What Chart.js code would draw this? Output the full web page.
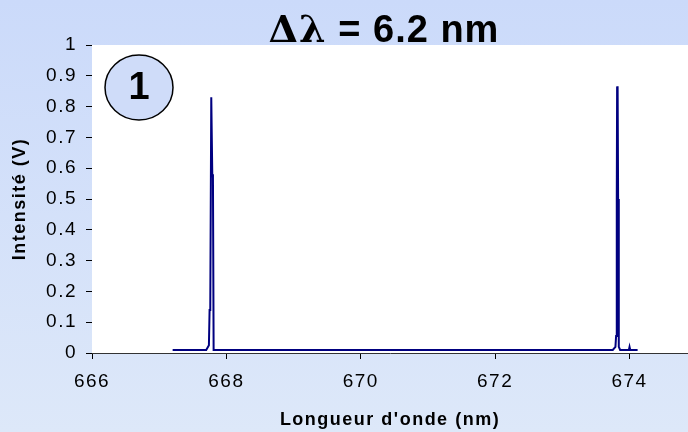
<!DOCTYPE html>
<html>
<head>
<meta charset="utf-8">
<script src="https://cdn.jsdelivr.net/npm/chart.js@4/dist/chart.umd.min.js"></script>
<style>
  html, body { margin: 0; padding: 0; overflow: hidden; }
  body { width: 688px; height: 432px; background: linear-gradient(#cbdafa, #dde8f9); }
  #wrap { position: relative; width: 688px; height: 432px; }
</style>
</head>
<body>
<div id="wrap"><canvas id="spectre" width="688" height="432"></canvas></div>
<script>
// spectre mesuré : longueur d'onde (nm) / intensité (V)
const wavelength = [667.20, 667.45, 667.70, 667.74, 667.75, 667.76, 667.775, 667.785, 667.79, 667.80, 667.81, 668.20, 669.00, 670.00, 671.00, 672.00, 673.00, 673.75, 673.79, 673.80, 673.81, 673.815, 673.82, 673.825, 673.83, 673.84, 673.86, 673.99, 674.00, 674.01, 674.12]
const intensity  = [0.010, 0.010, 0.010, 0.025, 0.140, 0.140, 0.830, 0.830, 0.580, 0.570, 0.010, 0.010, 0.010, 0.010, 0.010, 0.010, 0.010, 0.010, 0.020, 0.055, 0.500, 0.862, 0.866, 0.864, 0.500, 0.020, 0.010, 0.010, 0.020, 0.010, 0.010]

const xMin = 666
const xMax = 674.87
const xStep = 2
const yMin = 0
const yMax = 1
const yStep = 0.1

const titleLeft = 'Δλ'
const titleRight = ' = 6.2 nm'
const panelLabel = '1'

const SANS = "'Liberation Sans', Arial, sans-serif"

let spacing = {
  id: 'spacing',
  beforeUpdate (chart) { chart.ctx.letterSpacing = '1.5px' },
  beforeDraw (chart) { chart.ctx.letterSpacing = '1.5px' }
}

let plotBackground = {
  id: 'plotBackground',
  beforeDatasetsDraw (chart) {
    let { ctx, chartArea } = chart
    ctx.save()
    ctx.fillStyle = '#ffffff'
    ctx.fillRect(chartArea.left, chartArea.top, chartArea.right - chartArea.left, chartArea.bottom - chartArea.top)
    ctx.restore()
  }
}

let decorations = {
  id: 'decorations',
  afterDraw (chart) {
    let ctx = chart.ctx
    ctx.save()

    // titre
    ctx.fillStyle = '#000'
    ctx.textBaseline = 'alphabetic'
    ctx.letterSpacing = '1px'
    let serif = "bold 38px 'DejaVu Serif', serif"
    let sans = 'bold 38px ' + SANS
    ctx.font = serif
    let w1 = ctx.measureText(titleLeft).width
    ctx.font = sans
    let w2 = ctx.measureText(titleRight).width
    let x0 = 384 - (w1 + w2) / 2
    ctx.font = serif
    ctx.fillText(titleLeft, x0, 42)
    ctx.font = sans
    ctx.fillText(titleRight, x0 + w1, 42)

    // pastille
    ctx.beginPath()
    ctx.ellipse(139, 87.5, 34, 32.5, 0, 0, Math.PI * 2)
    ctx.fillStyle = '#cfdcf9'
    ctx.fill()
    ctx.lineWidth = 1.5
    ctx.strokeStyle = '#000'
    ctx.stroke()
    ctx.fillStyle = '#000'
    ctx.font = 'bold 38px ' + SANS
    ctx.textAlign = 'center'
    ctx.textBaseline = 'middle'
    ctx.letterSpacing = '0px'
    ctx.fillText(panelLabel, 139, 89)

    ctx.restore()
  }
}

let chart = new Chart(document.getElementById('spectre'), {
  type: 'scatter',
  data: {
    datasets: [
      {
        data: wavelength.map((x, i) => ({ x: x, y: intensity[i] })),
        showLine: true,
        borderColor: '#000080',
        borderWidth: 2,
        pointRadius: 0,
        tension: 0
      }
    ]
  },
  options: {
    responsive: false,
    animation: false,
    devicePixelRatio: 1,
    layout: { padding: { top: 45, right: 0, left: 0, bottom: 0 } },
    plugins: {
      legend: { display: false },
      tooltip: { enabled: false }
    },
    scales: {
      x: {
        type: 'linear',
        min: xMin,
        max: xMax,
        afterFit (scale) { scale.height = 79 },
        ticks: {
          stepSize: xStep,
          includeBounds: false,
          padding: 11,
          color: '#000',
          font: { family: SANS, size: 19 },
          maxRotation: 0
        },
        grid: { drawOnChartArea: false, drawTicks: true, tickLength: 6, color: '#000' },
        border: { display: true, color: '#333', width: 1 },
        title: {
          display: true,
          text: "Longueur d'onde (nm)",
          color: '#000',
          font: { family: SANS, size: 18, weight: 'bold' },
          padding: { top: 0, bottom: 1 }
        }
      },
      y: {
        min: yMin,
        max: yMax,
        afterFit (scale) { scale.width = 92 },
        ticks: {
          stepSize: yStep,
          padding: 9,
          color: '#000',
          font: { family: SANS, size: 19 },
          callback: v => String(+v.toFixed(1))
        },
        grid: { drawOnChartArea: false, drawTicks: true, tickLength: 6, color: '#000' },
        border: { display: true, color: '#333', width: 1 },
        title: {
          display: true,
          text: 'Intensité (V)',
          color: '#000',
          font: { family: SANS, size: 18, weight: 'bold' },
          padding: { top: 9, bottom: 0 }
        }
      }
    }
  },
  plugins: [spacing, plotBackground, decorations]
})
</script>
</body>
</html>
